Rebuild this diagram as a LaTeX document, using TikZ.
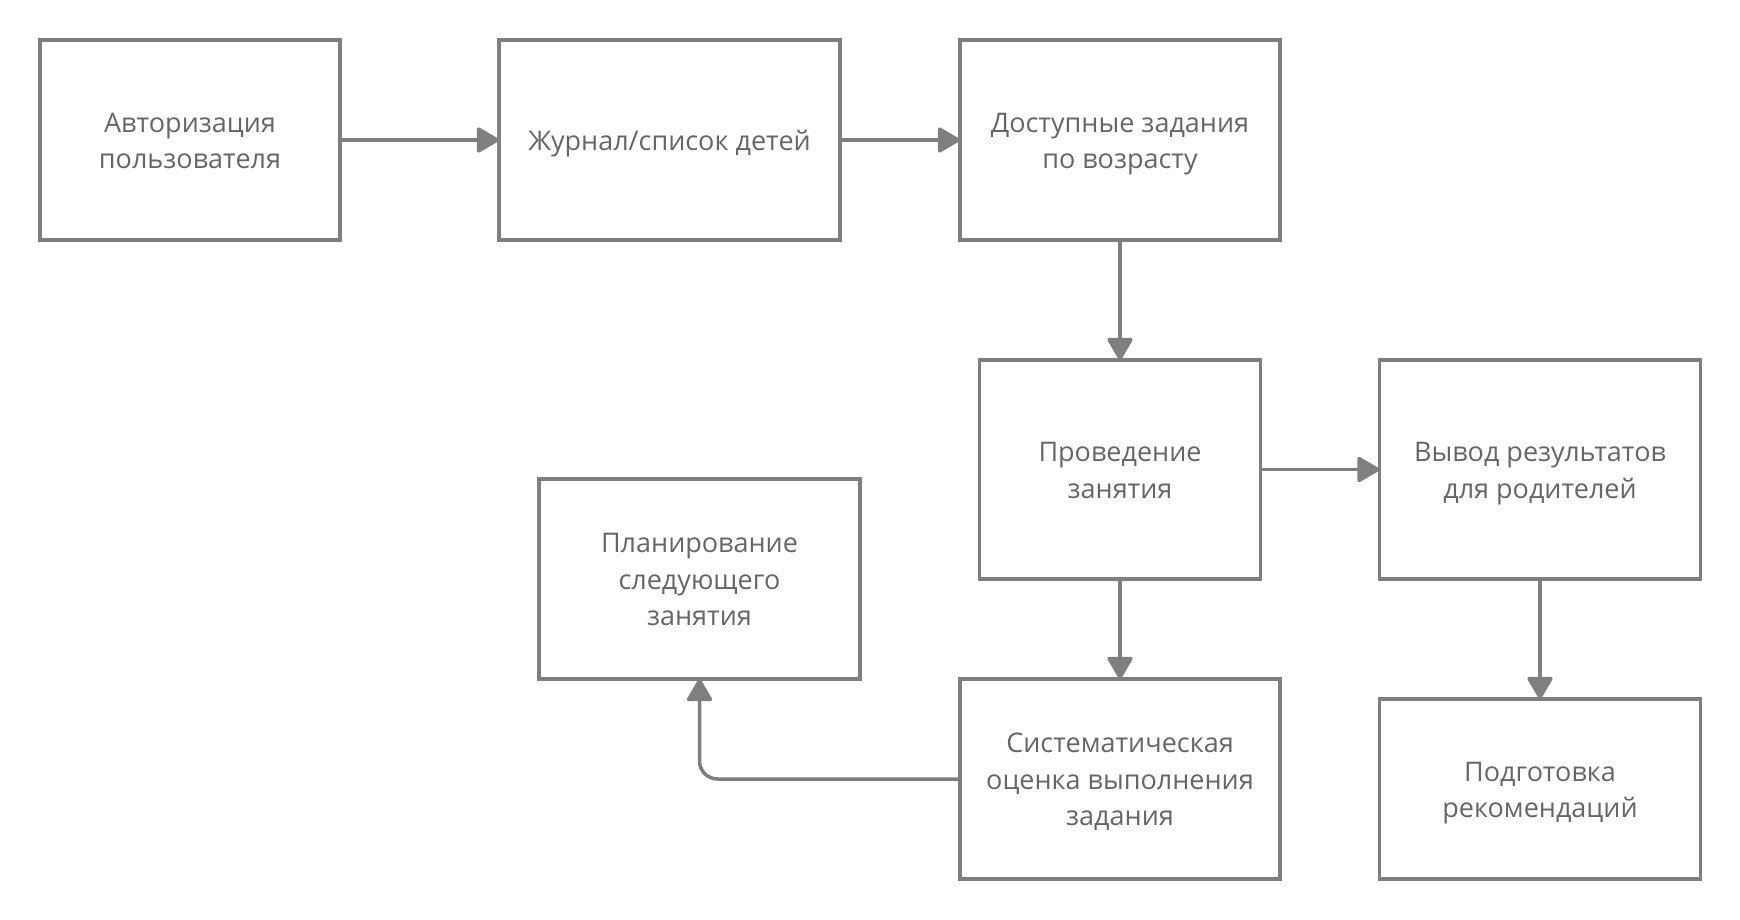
\documentclass[tikz,border=0pt]{standalone}
\usepackage{fontspec}
\setmainfont{Open Sans}
\usepackage{xcolor}
\usetikzlibrary{positioning,arrows.meta}
\definecolor{linegray}{HTML}{7F7F7F}
\definecolor{textgray}{HTML}{666666}
\newcommand{\boxlines}[1]{\raisebox{-3pt}[\height][\depth]{\begin{tabular}{@{}c@{}}#1\end{tabular}}}

\begin{document}
\begin{tikzpicture}[x=1pt,y=1pt,
box/.style={draw=linegray,line width=3.5pt,rectangle,outer sep=0pt,inner sep=0pt,
    text=textgray,font=\fontsize{27}{36.6}\selectfont},
arr/.style={draw=linegray,line width=3.5pt,-{Triangle[length=24pt,width=27pt,round]}}]
\useasboundingbox (0,0) rectangle (1740,-920);
\node (auth) [box,minimum width=300pt,minimum height=200pt] at (190,-140)
    {\boxlines{Авторизация\\пользователя}};
\node (journal) [box,minimum width=341pt,minimum height=200pt,right=159pt of auth]
    {\boxlines{Журнал/список детей}};
\node (tasks) [box,minimum width=320pt,minimum height=200pt,right=120pt of journal]
    {\boxlines{Доступные задания\\по возрасту}};
\node (lesson) [box,minimum width=281pt,minimum height=219pt,below=120pt of tasks]
    {\boxlines{Проведение\\занятия}};
\node (results) [box,minimum width=321pt,minimum height=219pt,right=119pt of lesson]
    {\boxlines{Вывод результатов\\для родителей}};
\node (eval) [box,minimum width=320pt,minimum height=200pt,below=100pt of lesson]
    {\boxlines{Систематическая\\оценка выполнения\\задания}};
\node (advice) [box,minimum width=321pt,minimum height=180pt,below=120pt of results]
    {\boxlines{Подготовка\\рекомендаций}};
\node (plan) [box,minimum width=321pt,minimum height=200pt] at (699.5,-579)
    {\boxlines{Планирование\\следующего\\занятия}};

\draw [arr] (auth) -- (journal);
\draw [arr] (journal) -- (tasks);
\draw [arr] (tasks) -- (lesson);
\draw [arr] (lesson) -- (results);
\draw [arr] (lesson) -- (eval);
\draw [arr] (results) -- (advice);
\draw [arr,rounded corners=18pt] (eval.west) -| (plan.south);
\end{tikzpicture}
\end{document}
